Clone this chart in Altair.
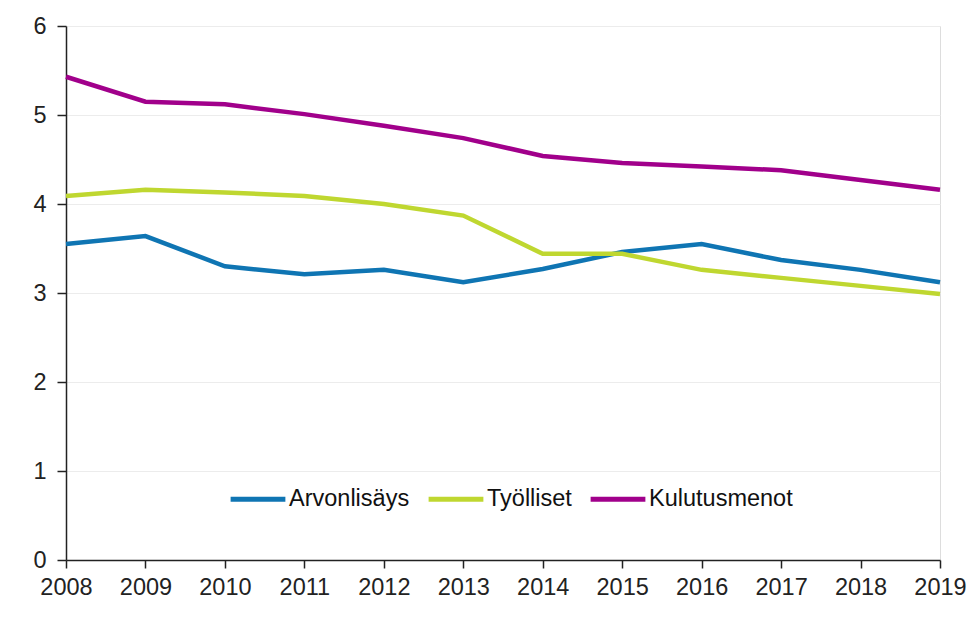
import altair as alt
import pandas as pd

years = list(range(2008, 2020))
series_names = ["Arvonlisäys", "Työlliset", "Kulutusmenot"]
arvonlisays = [3.55, 3.64, 3.30, 3.21, 3.26, 3.12, 3.27, 3.46, 3.55, 3.37, 3.26, 3.12]
tyolliset = [4.09, 4.16, 4.13, 4.09, 4.00, 3.87, 3.44, 3.44, 3.26, 3.17, 3.08, 2.99]
kulutusmenot = [5.43, 5.15, 5.12, 5.01, 4.88, 4.74, 4.54, 4.46, 4.42, 4.38, 4.27, 4.16]
colors = ["#0f75b3", "#bfd730", "#a1008b"]

rows = []
for name, vals in zip(series_names, [arvonlisays, tyolliset, kulutusmenot]):
    for y, v in zip(years, vals):
        rows.append({"Vuosi": y, "Sarja": name, "Arvo": v})
df = pd.DataFrame(rows)

FONT = "Liberation Sans"

chart = alt.Chart(df).mark_line(strokeWidth=4.5, strokeCap="butt", strokeJoin="miter").encode(
    x=alt.X("Vuosi:Q", scale=alt.Scale(domain=[2008, 2019], nice=False, zero=False),
            axis=alt.Axis(values=years, format="d", title=None, grid=False,
                          tickSize=8, labelPadding=7, labelFontSize=23.5,
                          domainColor="#222222", tickColor="#222222", domainWidth=1.5, tickWidth=1.5,
                          labelColor="#222222", labelFlush=False)),
    y=alt.Y("Arvo:Q", scale=alt.Scale(domain=[0, 6], nice=False),
            axis=alt.Axis(values=[0, 1, 2, 3, 4, 5, 6], title=None, grid=True, gridColor="#ececec",
                          tickSize=9, labelPadding=11, labelFontSize=23.5,
                          domainColor="#222222", tickColor="#222222", domainWidth=1.5, tickWidth=1.5,
                          labelColor="#222222")),
    color=alt.Color("Sarja:N", sort=series_names,
                    scale=alt.Scale(domain=series_names, range=colors),
                    legend=alt.Legend(title=None, orient="none", direction="horizontal",
                                      legendX=162, legendY=443,
                                      symbolType="stroke", symbolSize=3000, symbolStrokeWidth=5,
                                      labelFontSize=23.5, labelColor="#111111", labelOffset=1,
                                      columnPadding=8, labelLimit=300)),
).properties(
    width=874, height=534, padding={"left": 58, "top": 18, "right": 28, "bottom": 40},
    autosize=alt.AutoSizeParams(type="none"),
).configure_view(stroke=None).configure(font=FONT)

chart.save("out.html", embed_options={"renderer": "svg", "actions": False})
